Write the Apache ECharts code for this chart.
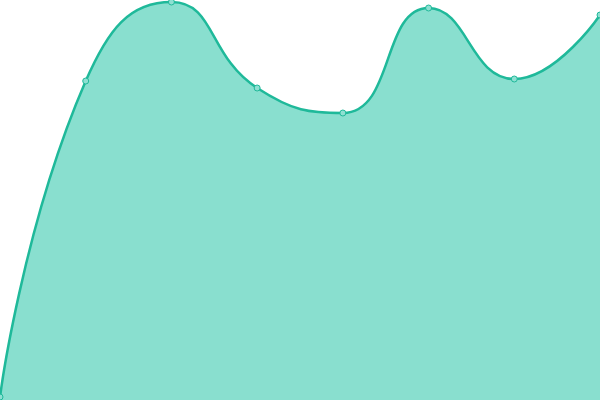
<!DOCTYPE html>
<html>
<head>
<meta charset="UTF-8">
<title>area</title>
<script src="https://cdn.jsdelivr.net/npm/echarts@6/dist/echarts.min.js"></script>
<style>
  html, body { margin: 0; padding: 0; background: #fff; }
  #main { width: 600px; height: 400px; }
</style>
</head>
<body>
<div id="main"></div>
<script>
var categories = ['A', 'B', 'C', 'D', 'E', 'F', 'G', 'H'];
var values = [3, 319, 398, 312, 287, 392, 321, 385];

var chart = echarts.init(document.getElementById('main'));
chart.setOption({
    animation: false,
    grid: { left: 0, right: 0, top: 0, bottom: 0 },
    xAxis: {
        type: 'category',
        boundaryGap: false,
        data: categories,
        show: false
    },
    yAxis: {
        type: 'value',
        min: 0,
        max: 400,
        show: false
    },
    series: [{
        type: 'line',
        smooth: true,
        data: values,
        symbol: 'circle',
        symbolSize: 6,
        lineStyle: { color: '#1fb99a', width: 2.5 },
        itemStyle: { color: '#8ee0d2', borderColor: '#1fb99a', borderWidth: 1 },
        areaStyle: { color: '#89dfcf', opacity: 1 }
    }]
});
</script>
</body>
</html>
